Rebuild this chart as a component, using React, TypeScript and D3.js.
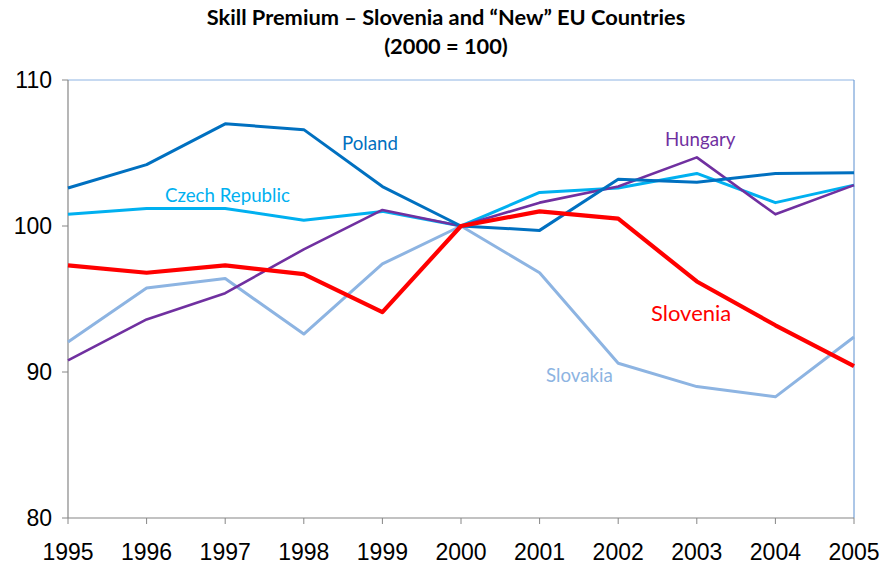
import React from "react";
import * as d3 from "d3";

const years = [1995, 1996, 1997, 1998, 1999, 2000, 2001, 2002, 2003, 2004, 2005];
const poland = [102.6, 104.2, 107.0, 106.6, 102.7, 100.0, 99.7, 103.2, 103.0, 103.6, 103.65];
const czech = [100.8, 101.2, 101.2, 100.4, 101.0, 100.0, 102.3, 102.6, 103.6, 101.6, 102.8];
const hungary = [90.8, 93.6, 95.4, 98.4, 101.1, 100.0, 101.6, 102.7, 104.7, 100.8, 102.8];
const slovenia = [97.3, 96.8, 97.3, 96.7, 94.1, 100.0, 101.0, 100.5, 96.2, 93.2, 90.4];
const slovakia = [92.05, 95.75, 96.4, 92.6, 97.4, 100.0, 96.8, 90.6, 89.0, 88.3, 92.4];
const yTicks = [80, 90, 100, 110];

const W = 884, H = 567;
const left = 68, right = 854, top = 80, bottom = 518;

export default function App() {
  const x = d3.scaleLinear().domain([1995, 2005]).range([left, right]);
  const y = d3.scaleLinear().domain([80, 110]).range([bottom, top]);
  const line = d3.line<number>().x((_, i) => x(years[i])).y((d) => y(d));

  const series = [
    { name: "Slovakia", data: slovakia, color: "#8db4e2", w: 3 },
    { name: "Czech Republic", data: czech, color: "#00b0f0", w: 3 },
    { name: "Hungary", data: hungary, color: "#7030a0", w: 2.6 },
    { name: "Poland", data: poland, color: "#0070c0", w: 3 },
    { name: "Slovenia", data: slovenia, color: "#ff0000", w: 4.2 },
  ];

  const labelFont = "Lato, 'Open Sans', sans-serif";
  const labels = [
    { text: "Poland", x: 342, y: 150, color: "#0070c0", size: 18.7 },
    { text: "Czech Republic", x: 165, y: 202, color: "#00b0f0", size: 18.7 },
    { text: "Hungary", x: 665, y: 146, color: "#7030a0", size: 18.7 },
    { text: "Slovenia", x: 651, y: 321, color: "#ff0000", size: 22 },
    { text: "Slovakia", x: 546, y: 382, color: "#8db4e2", size: 18.7 },
  ];

  return (
    <svg width={W} height={H} style={{ position: "absolute", left: 0, top: 0, background: "#fff" }}>
      <text x={446} y={25} textAnchor="middle" fontFamily={labelFont} fontWeight="bold" fontSize={21.8} fill="#000">
        Skill Premium – Slovenia and “New” EU Countries
      </text>
      <text x={446} y={54} textAnchor="middle" fontFamily={labelFont} fontWeight="bold" fontSize={21.8} fill="#000">
        (2000 = 100)
      </text>
      {/* frame */}
      <line x1={left} x2={right} y1={top} y2={top} stroke="#8eb4e3" strokeWidth={1} />
      <line x1={right} x2={right} y1={top} y2={bottom} stroke="#5b8fd0" strokeWidth={1} />
      <line x1={left} x2={left} y1={top} y2={bottom} stroke="#868686" strokeWidth={1.2} />
      <line x1={left} x2={right} y1={bottom} y2={bottom} stroke="#868686" strokeWidth={1.2} />
      {yTicks.map((t) => (
        <g key={t}>
          <line x1={left - 6} x2={left} y1={y(t)} y2={y(t)} stroke="#868686" />
          <text x={52} y={y(t) + 8} textAnchor="end" fontFamily="'Liberation Sans', Arial, sans-serif" fontSize={23} fill="#000">
            {t}
          </text>
        </g>
      ))}
      {years.map((yr) => (
        <g key={yr}>
          <line x1={x(yr)} x2={x(yr)} y1={bottom} y2={bottom + 6} stroke="#868686" />
          <text x={x(yr)} y={560} textAnchor="middle" fontFamily="'Liberation Sans', Arial, sans-serif" fontSize={23} fill="#000">
            {yr}
          </text>
        </g>
      ))}
      {series.map((s) => (
        <path key={s.name} d={line(s.data) || ""} fill="none" stroke={s.color} strokeWidth={s.w} strokeLinejoin="round" />
      ))}
      {labels.map((l) => (
        <text key={l.text} x={l.x} y={l.y} fontFamily={labelFont} fontSize={l.size} fill={l.color}>
          {l.text}
        </text>
      ))}
    </svg>
  );
}
